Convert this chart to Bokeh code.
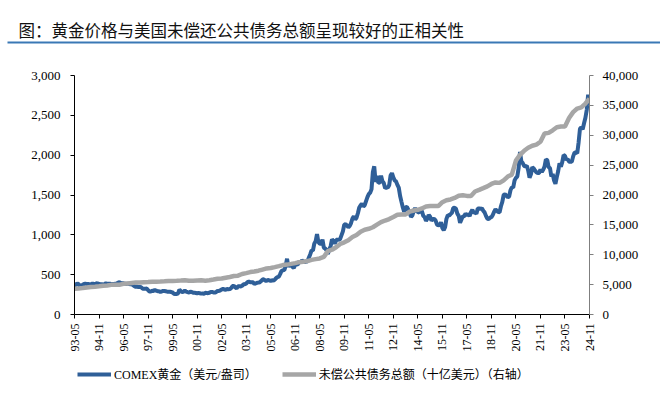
import math
from bokeh.plotting import figure
from bokeh.models import (Range1d, LinearAxis, FixedTicker, NumeralTickFormatter,
                          Legend, LegendItem, ColumnDataSource)
from bokeh.layouts import column
from bokeh.embed import file_html
from bokeh.resources import INLINE
from bokeh.core.properties import value

TITLE = "图：黄金价格与美国未偿还公共债务总额呈现较好的正相关性"
GOLD_LABEL = "COMEX黄金（美元/盎司）"
DEBT_LABEL = "未偿公共债务总额（十亿美元）（右轴）"

# x-axis tick labels (every 18 months starting 1993-05)
tick_labels = ["93-05", "94-11", "96-05", "97-11", "99-05", "00-11", "02-05", "03-11",
               "05-05", "06-11", "08-05", "09-11", "11-05", "12-11", "14-05", "15-11",
               "17-05", "18-11", "20-05", "21-11", "23-05", "24-11"]

# COMEX gold, USD/oz, monthly from 1993-05 to 2024-11
gold = [
    368, 372, 392, 380, 355, 364, 373, 383,                            # 1993 May-Dec
    387, 382, 384, 377, 381, 386, 385, 380, 391, 389, 384, 379,        # 1994
    379, 376, 382, 391, 385, 387, 386, 383, 383, 383, 386, 387,        # 1995
    400, 405, 396, 393, 392, 385, 383, 387, 383, 381, 378, 369,        # 1996
    355, 347, 352, 344, 344, 341, 324, 324, 323, 325, 306, 289,        # 1997
    289, 297, 296, 308, 299, 292, 293, 284, 289, 296, 294, 291,        # 1998
    287, 287, 286, 282, 276, 261, 256, 257, 265, 311, 293, 283,        # 1999
    285, 300, 286, 280, 275, 286, 282, 274, 274, 270, 266, 272,        # 2000
    266, 262, 263, 261, 272, 270, 268, 273, 283, 283, 276, 276,        # 2001
    282, 296, 294, 303, 314, 322, 314, 310, 319, 317, 319, 333,        # 2002
    357, 359, 340, 328, 355, 356, 351, 360, 379, 379, 389, 407,        # 2003
    414, 405, 406, 404, 383, 392, 398, 400, 405, 420, 439, 442,        # 2004
    424, 423, 434, 429, 422, 430, 424, 437, 456, 470, 476, 510,        # 2005
    549, 555, 557, 610, 700, 596, 633, 632, 598, 585, 627, 629,        # 2006
    631, 665, 655, 679, 667, 655, 665, 665, 712, 754, 806, 803,        # 2007
    889, 922, 1010, 909, 888, 889, 939, 839, 829, 806, 760, 816,       # 2008
    858, 943, 924, 890, 928, 946, 934, 949, 996, 1043, 1127, 1135,     # 2009
    1117, 1095, 1113, 1148, 1205, 1232, 1193, 1215, 1271, 1343, 1370, 1391,  # 2010
    1356, 1372, 1424, 1473, 1510, 1529, 1572, 1790, 1860, 1665, 1739, 1652,  # 2011
    1656, 1742, 1673, 1650, 1585, 1596, 1593, 1626, 1744, 1775, 1721, 1684,  # 2012
    1671, 1627, 1593, 1487, 1414, 1343, 1286, 1347, 1349, 1316, 1275, 1225,  # 2013
    1244, 1300, 1336, 1299, 1287, 1279, 1311, 1296, 1238, 1222, 1176, 1202,  # 2014
    1251, 1227, 1179, 1198, 1199, 1181, 1131, 1117, 1125, 1157, 1086, 1060,  # 2015
    1097, 1200, 1246, 1242, 1260, 1276, 1337, 1341, 1326, 1266, 1238, 1151,  # 2016
    1192, 1234, 1231, 1266, 1246, 1260, 1236, 1283, 1314, 1280, 1282, 1265,  # 2017
    1331, 1331, 1325, 1335, 1303, 1282, 1238, 1202, 1199, 1215, 1221, 1250,  # 2018
    1291, 1320, 1301, 1285, 1284, 1359, 1413, 1500, 1510, 1495, 1470, 1480,  # 2019
    1560, 1597, 1592, 1683, 1715, 1732, 1840, 2040, 1921, 1900, 1866, 1858,  # 2020
    1867, 1808, 1718, 1760, 1850, 1834, 1807, 1785, 1775, 1777, 1821, 1790,  # 2021
    1817, 1856, 1948, 1937, 1849, 1837, 1732, 1764, 1681, 1640, 1726, 1798,  # 2022
    1898, 1855, 1913, 2000, 1992, 1942, 1951, 1918, 1916, 1916, 1985, 2030,  # 2023
    2034, 2023, 2160, 2330, 2350, 2325, 2400, 2470, 2570, 2760, 2620,        # 2024 Jan-Nov
]

# Total public debt outstanding, billion USD, quarterly from 1993-05 to 2024-11
debt = [
    4300, 4370, 4430,
    4530, 4600, 4650, 4730,
    4820, 4870, 4960, 4990,
    4990, 5130, 5200, 5270,
    5340, 5350, 5400, 5440,
    5500, 5500, 5530, 5570,
    5620, 5620, 5650, 5690,
    5740, 5650, 5660, 5700,
    5730, 5660, 5720, 5850,
    5990, 6020, 6160, 6280,
    6440, 6500, 6780, 6930,
    7100, 7200, 7330, 7520,
    7710, 7780, 7930, 8090,
    8270, 8350, 8470, 8600,
    8760, 8830, 8940, 9140,
    9270, 9380, 9640, 10600,
    10840, 11250, 11800, 12080,
    12440, 12970, 13300, 13860,
    14190, 14340, 14600, 15030,
    15450, 15730, 15980, 16330,
    16690, 16740, 16740, 17220,
    17400, 17520, 17750, 18080,
    18150, 18150, 18150, 18800,
    19120, 19260, 19510, 19860,
    19950, 19850, 19840, 20590,
    20860, 21150, 21450, 21850,
    22110, 22030, 22460, 23080,
    23410, 25750, 26730, 27400,
    27900, 28250, 28430, 28910,
    30290, 30400, 30830, 31340,
    31460, 31460, 32880, 33870,
    34470, 34670, 35300, 36100,
]

gold_x = list(range(len(gold)))            # months since 1993-05
debt_x = [3 * i for i in range(len(debt))]  # quarterly, months since 1993-05
tick_pos = [18 * i for i in range(len(tick_labels))]

SERIF = "Liberation Serif, Noto Sans CJK SC"
GOLD_COLOR = "#2F5F98"
DEBT_COLOR = "#A6A6A6"

# ---------- title strip ----------
t = figure(width=660, height=58, x_range=Range1d(0, 660), y_range=Range1d(0, 58),
           toolbar_location=None, output_backend="svg", min_border=0,
           x_axis_type=None, y_axis_type=None, outline_line_color=None)
t.frame_align = False
t.text(x=[18], y=[29], text=[TITLE], text_font=value("Noto Sans CJK SC"),
       text_font_size="16.5px", text_baseline="middle", text_align="left", text_color="#111111")
t.line(x=[7, 660], y=[16, 16], line_color="#3A78B5", line_width=2)

# ---------- main chart ----------
p = figure(width=660, height=298, x_range=Range1d(0, gold_x[-1]), y_range=Range1d(0, 3000),
           toolbar_location=None, output_backend="svg",
           min_border_left=74, min_border_right=71, min_border_top=17, min_border_bottom=42,
           outline_line_color=None)
p.frame_align = False
p.xgrid.visible = False
p.ygrid.visible = False
p.extra_y_ranges = {"debt": Range1d(0, 40000)}

src_g = ColumnDataSource(dict(x=gold_x, y=gold))
src_d = ColumnDataSource(dict(x=debt_x, y=debt))
r_gold = p.line("x", "y", source=src_g, line_color=GOLD_COLOR, line_width=4)
r_debt = p.line("x", "y", source=src_d, y_range_name="debt", line_color=DEBT_COLOR, line_width=4.5)

def style(ax, color, fs, standoff):
    ax.axis_line_color = color
    ax.axis_line_width = 1
    ax.major_tick_line_color = color
    ax.major_tick_out = 4
    ax.major_tick_in = 0
    ax.minor_tick_line_color = None
    ax.major_label_text_font = SERIF
    ax.major_label_text_font_size = fs
    ax.major_label_text_color = "#000000"
    ax.major_label_standoff = standoff

ly = p.yaxis[0]
ly.ticker = FixedTicker(ticks=[0, 500, 1000, 1500, 2000, 2500, 3000])
ly.formatter = NumeralTickFormatter(format="0,0")
style(ly, "#000000", "13px", 10)

ry = LinearAxis(y_range_name="debt",
                ticker=FixedTicker(ticks=[0, 5000, 10000, 15000, 20000, 25000, 30000, 35000, 40000]),
                formatter=NumeralTickFormatter(format="0,0"))
style(ry, "#7F7F7F", "13px", 9)
p.add_layout(ry, "right")

xa = p.xaxis[0]
xa.ticker = FixedTicker(ticks=tick_pos)
xa.major_label_overrides = {pos: lab for pos, lab in zip(tick_pos, tick_labels)}
xa.major_label_orientation = math.pi / 2
style(xa, "#000000", "12px", 5)

# ---------- legend strip ----------
# key renderers hold points outside the strip's visible range; only their legend swatches show
lg = figure(width=660, height=42, x_range=Range1d(0, 1), y_range=Range1d(0, 1),
            toolbar_location=None, output_backend="svg", min_border=0,
            x_axis_type=None, y_axis_type=None, outline_line_color=None)
lg.frame_align = False
k_gold = lg.line(x=[5, 6], y=[5, 6], line_color=GOLD_COLOR, line_width=4)
k_debt = lg.line(x=[5, 6], y=[5, 6], line_color=DEBT_COLOR, line_width=4.5)
legend = Legend(items=[LegendItem(label=GOLD_LABEL, renderers=[k_gold]),
                       LegendItem(label=DEBT_LABEL, renderers=[k_debt])],
                orientation="horizontal", location=(77, 15),
                glyph_width=34, glyph_height=16, label_height=16, label_standoff=3, spacing=25,
                padding=0, margin=0, border_line_color=None, background_fill_alpha=0,
                label_text_font=SERIF, label_text_font_size="12px", label_text_color="#000000")
lg.add_layout(legend)

layout = column(t, p, lg, spacing=0)
open("out.html", "w").write(file_html(layout, INLINE))
